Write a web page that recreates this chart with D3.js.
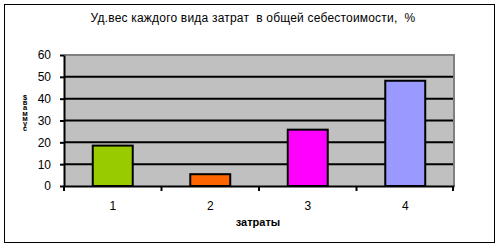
<!DOCTYPE html>
<html>
<head>
<meta charset="utf-8">
<script src="https://cdn.jsdelivr.net/npm/d3@7"></script>
<style>
  html, body { margin: 0; padding: 0; background: #fff; }
  svg { display: block; font-family: Arial, "Liberation Sans", sans-serif; }
</style>
</head>
<body>
<svg id="chart" width="504" height="248"></svg>
<script>
// Cost categories and their share of total cost, %
const categories = ["1", "2", "3", "4"];
const shares = [18.5, 5.4, 25.8, 48.2];
const barColors = ["#99CC00", "#FF6600", "#FF00FF", "#9999FF"];
const yTicks = [0, 10, 20, 30, 40, 50, 60];
const titleText = "Уд.вес каждого вида затрат  в общей себестоимости,  %";
const xTitle = "затраты";
const yTitle = "$ваммус";

const svg = d3.select("#chart");
const plot = { left: 64, right: 454, top: 55, bottom: 186 };

// Outer frame
svg.append("rect")
  .attr("x", 4.5).attr("y", 4.5)
  .attr("width", 490).attr("height", 238)
  .attr("fill", "#fff").attr("stroke", "#000").attr("stroke-width", 1);

svg.append("text")
  .attr("x", 253).attr("y", 22)
  .attr("text-anchor", "middle")
  .attr("font-size", 12)
  .style("white-space", "pre")
  .attr("letter-spacing", 0.2)
  .text(titleText);

const x = d3.scaleBand()
  .domain(categories)
  .range([plot.left, plot.right])
  .paddingInner(0.59)
  .paddingOuter(0.295);

const y = d3.scaleLinear()
  .domain([0, 60])
  .range([plot.bottom, plot.top]);

// Plot area background with grey top/right border
svg.append("rect")
  .attr("x", plot.left).attr("y", plot.top)
  .attr("width", plot.right - plot.left).attr("height", plot.bottom - plot.top)
  .attr("fill", "#C0C0C0");
svg.append("path")
  .attr("d", `M${plot.left},${plot.top} H${plot.right} V${plot.bottom}`)
  .attr("fill", "none").attr("stroke", "#808080").attr("stroke-width", 2);

// Horizontal gridlines
svg.append("g")
  .selectAll("line")
  .data(yTicks.filter(t => t > 0 && t < 60))
  .join("line")
  .attr("x1", plot.left).attr("x2", plot.right - 1)
  .attr("y1", d => y(d)).attr("y2", d => y(d))
  .attr("stroke", "#000").attr("stroke-width", 2);

// Bars
svg.append("g")
  .selectAll("rect")
  .data(shares)
  .join("rect")
  .attr("x", (d, i) => x(categories[i]))
  .attr("y", d => y(d))
  .attr("width", x.bandwidth())
  .attr("height", d => y(0) - y(d))
  .attr("fill", (d, i) => barColors[i])
  .attr("stroke", "#000").attr("stroke-width", 2);

// Y axis
const yAxis = svg.append("g")
  .attr("transform", `translate(${plot.left},0)`)
  .call(d3.axisLeft(y).tickValues(yTicks).tickSize(4).tickPadding(9).tickSizeOuter(0));
yAxis.select(".domain").attr("stroke", "#000").attr("stroke-width", 2);
yAxis.selectAll(".tick line").attr("stroke", "#000").attr("stroke-width", 2);
yAxis.selectAll(".tick text")
  .attr("font-size", 12).attr("font-family", "Arial, 'Liberation Sans', sans-serif")
  .attr("fill", "#000");

// X axis with ticks at category boundaries
const xAxis = svg.append("g")
  .attr("transform", `translate(0,${plot.bottom})`)
  .call(d3.axisBottom(x).tickSize(0).tickPadding(15).tickSizeOuter(0));
xAxis.select(".domain").attr("stroke", "#000").attr("stroke-width", 2);
xAxis.selectAll(".tick text")
  .attr("font-size", 12).attr("font-family", "Arial, 'Liberation Sans', sans-serif")
  .attr("fill", "#000");
const step = x.step();
const bounds = categories.map(c => x(c) - x.paddingOuter() * step)
  .concat([plot.right - 1]);
xAxis.selectAll(".bound")
  .data(bounds)
  .join("line")
  .attr("class", "bound")
  .attr("x1", d => d).attr("x2", d => d)
  .attr("y1", 0).attr("y2", 5)
  .attr("stroke", "#000").attr("stroke-width", 2);

// Axis titles
svg.append("text")
  .attr("x", 258).attr("y", 226)
  .attr("text-anchor", "middle")
  .attr("font-size", 11).attr("font-weight", "bold")
  .text(xTitle);

// Stacked upright letters of the value-axis title
svg.append("text")
  .attr("x", 25).attr("y", 93)
  .style("writing-mode", "vertical-rl")
  .style("text-orientation", "upright")
  .attr("letter-spacing", -3.8)
  .attr("font-size", 7.5).attr("font-weight", "bold")
  .text(yTitle);
</script>
</body>
</html>
